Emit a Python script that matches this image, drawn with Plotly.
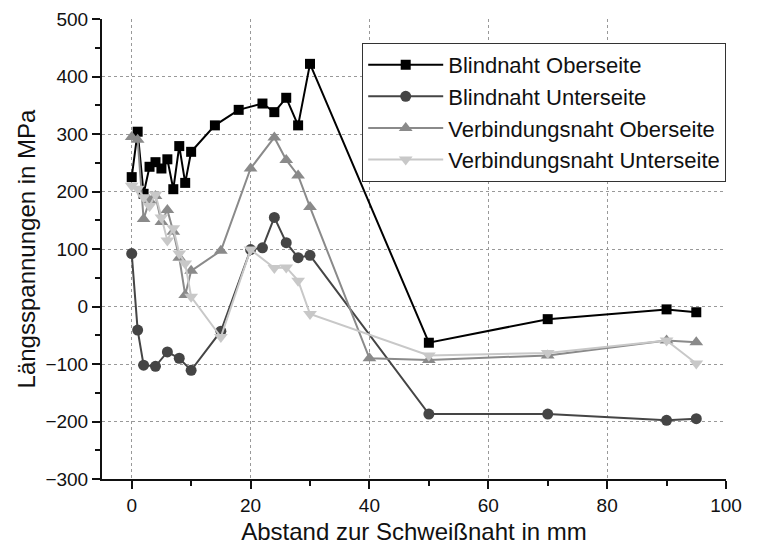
import plotly.graph_objects as go

# Blindnaht Oberseite
bo_x = [0, 1, 2, 3, 4, 5, 6, 7, 8, 9, 10, 14, 18, 22, 24, 26, 28, 30, 50, 70, 90, 95]
bo_y = [225, 304, 196, 243, 251, 240, 256, 204, 279, 215, 269, 315, 342, 353, 338, 363, 315, 422, -63, -22, -5, -10]

# Blindnaht Unterseite
bu_x = [0, 1, 2, 4, 6, 8, 10, 15, 20, 22, 24, 26, 28, 30, 50, 70, 90, 95]
bu_y = [92, -41, -102, -104, -79, -90, -111, -43, 99, 102, 155, 111, 85, 89, -187, -187, -198, -195]

# Verbindungsnaht Oberseite
vo_x = [0, 1, 2, 3, 4, 5, 6, 7, 8, 9, 10, 15, 20, 24, 26, 28, 30, 40, 50, 70, 90, 95]
vo_y = [295, 290, 152, 185, 192, 147, 168, 130, 85, 20, 62, 97, 240, 294, 255, 228, 173, -90, -93, -85, -59, -62]

# Verbindungsnaht Unterseite
vu_x = [0, 1, 2, 3, 4, 5, 6, 7, 8, 9, 10, 15, 20, 24, 26, 28, 30, 50, 70, 90, 95]
vu_y = [210, 205, 190, 175, 195, 155, 115, 136, 92, 75, 17, -53, 99, 67, 68, 45, -13, -85, -81, -59, -99]

names = ["Blindnaht Oberseite", "Blindnaht Unterseite",
         "Verbindungsnaht Oberseite", "Verbindungsnaht Unterseite"]

FONT = "Liberation Sans, Arial, sans-serif"

fig = go.Figure()
series = [
    (bo_x, bo_y, names[0], "#000000", "square", 10),
    (bu_x, bu_y, names[1], "#454545", "circle", 11),
    (vo_x, vo_y, names[2], "#8a8a8a", "triangle-up", 12),
    (vu_x, vu_y, names[3], "#c8c8c8", "triangle-down", 12),
]
for x, y, n, c, sym, sz in series:
    fig.add_trace(go.Scatter(
        x=x, y=y, name=n, mode="lines+markers",
        line=dict(color=c, width=2),
        marker=dict(symbol=sym, size=sz, color=c, line=dict(width=0)),
    ))

# page body has an 8px default margin: figure sized to fit the window from (8,8)
fig.update_layout(
    width=753, height=545,
    margin=dict(l=94, r=35, t=11, b=74, autoexpand=False),
    paper_bgcolor="white", plot_bgcolor="white",
    font=dict(family=FONT, size=19, color="#111111"),
    showlegend=True,
    legend=dict(
        x=0.417, y=0.948, xanchor="left", yanchor="top",
        bgcolor="white", bordercolor="#333333", borderwidth=1,
        font=dict(family=FONT, size=22, color="#111111"),
        tracegroupgap=0, itemwidth=75,
    ),
)
fig.update_xaxes(
    range=[-5, 100], tickvals=[0, 20, 40, 60, 80, 100],
    showline=True, linecolor="#111111", linewidth=2, automargin=False,
    ticks="outside", ticklen=8, tickwidth=2, tickcolor="#111111",
    minor=dict(ticks="outside", ticklen=5, tickwidth=2, tickcolor="#111111", dtick=10, tick0=0, showgrid=False),
    showgrid=True, gridcolor="#999999", griddash="dot", gridwidth=1,
    zeroline=False, mirror=False,
    title=dict(text="Abstand zur Schweißnaht in mm", font=dict(size=24), standoff=8),
)
fig.update_yaxes(
    range=[-300, 500], tickvals=[-300, -200, -100, 0, 100, 200, 300, 400, 500],
    showline=True, linecolor="#111111", linewidth=2, automargin=False,
    ticks="outside", ticklen=8, tickwidth=2, tickcolor="#111111",
    minor=dict(ticks="outside", ticklen=5, tickwidth=2, tickcolor="#111111", dtick=50, tick0=0, showgrid=False),
    showgrid=True, gridcolor="#999999", griddash="dot", gridwidth=1,
    zeroline=False, mirror=False,
    title=dict(text="Längsspannungen in MPa", font=dict(size=24), standoff=3),
)

fig.write_html("out.html")
